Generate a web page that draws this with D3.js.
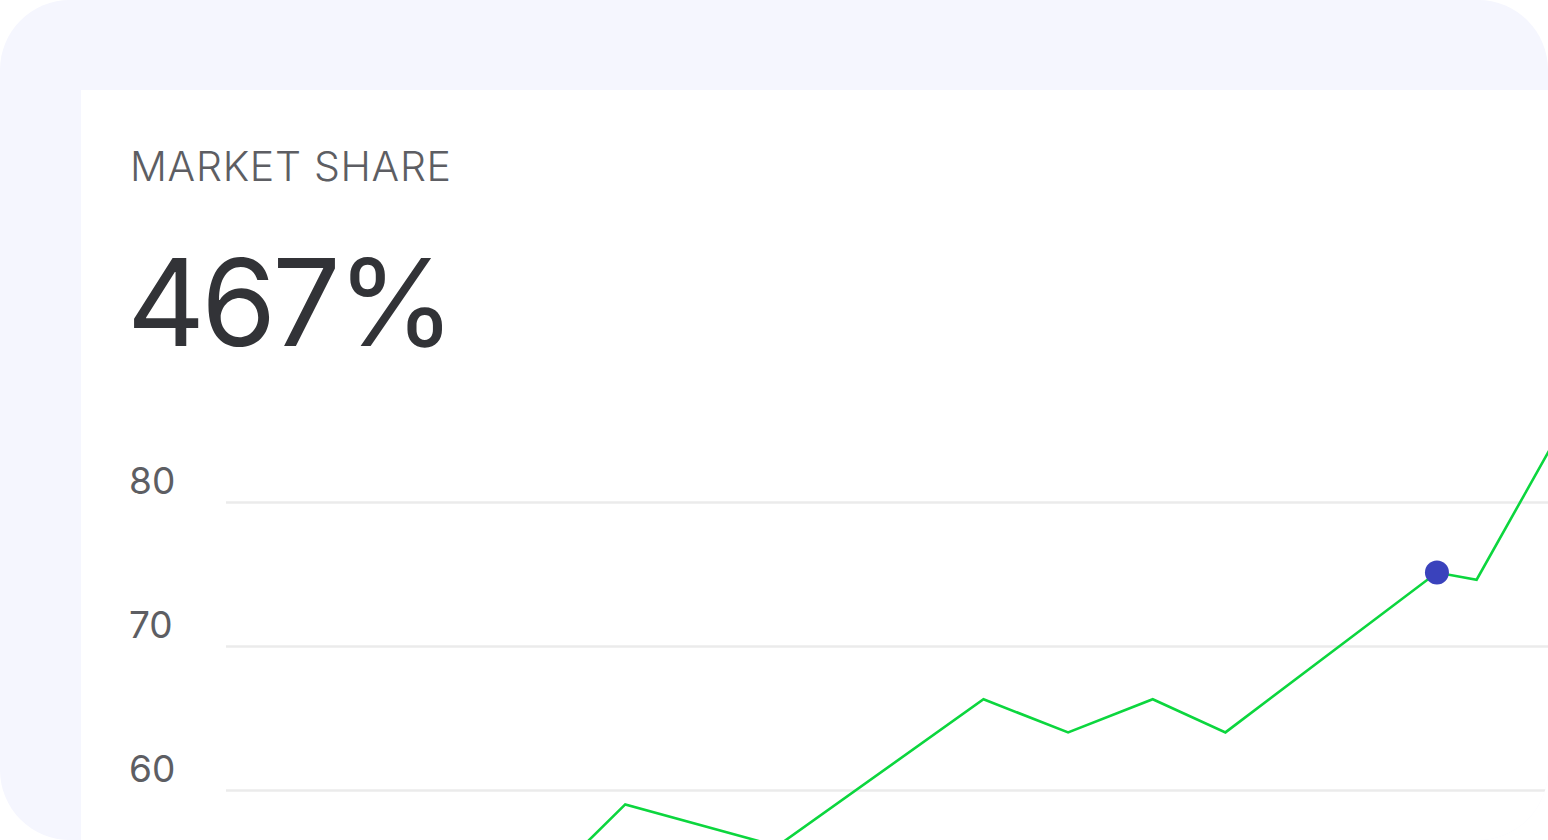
<!DOCTYPE html>
<html>
<head>
<meta charset="utf-8">
<script src="https://cdn.jsdelivr.net/npm/d3@7"></script>
<style>
  html, body { margin: 0; padding: 0; background: #ffffff; }
  svg { display: block; font-family: Inter, "Noto Sans", sans-serif; }
</style>
</head>
<body>
<svg id="chart" width="1548" height="840"></svg>
<script>
// position along the time axis (days) and the share at that point
const days = [22.8, 30.2, 41.7, 57.3, 63.7, 70.1, 75.6, 91.6, 94.6, 100.9];
const share = [52.3, 59.0, 56.1, 66.3, 64.0, 66.3, 64.0, 75.1, 74.6, 84.9];
const highlightIndex = 7;
const yTicks = [60, 70, 80];
const title = 'MARKET SHARE';
const headline = '467%';

const width = 1548;
const height = 840;

const svg = d3.select('#chart');

svg.append('defs')
    .append('clipPath')
    .attr('id', 'frame')
    .append('rect')
    .attr('width', width)
    .attr('height', height)
    .attr('rx', 70)
    .attr('ry', 70);

const root = svg.append('g').attr('clip-path', 'url(#frame)');

root.append('rect')
    .attr('width', width)
    .attr('height', height)
    .attr('fill', '#f5f6fe');

root.append('rect')
    .attr('x', 81)
    .attr('y', 90)
    .attr('width', width - 81)
    .attr('height', height - 90)
    .attr('fill', '#ffffff');

root.append('text')
    .attr('x', 130)
    .attr('y', 181)
    .attr('font-size', 41)
    .attr('font-weight', 300)
    .attr('letter-spacing', 0.7)
    .attr('fill', '#5d5e63')
    .text(title);

root.append('text')
    .attr('x', 127)
    .attr('y', 346)
    .attr('font-size', 121)
    .attr('font-weight', 400)
    .attr('letter-spacing', -4)
    .attr('fill', '#323337')
    .text(headline);

const x = d3.scaleLinear()
    .domain([0, 100])
    .range([226, 1548]);

const y = d3.scaleLinear()
    .domain([60, 80])
    .range([790, 502]);

const axis = root.append('g')
    .attr('transform', 'translate(226,0)')
    .call(d3.axisLeft(y)
        .tickValues(yTicks)
        .tickSize(-(width - 226))
        .tickFormat(d3.format('d')));

axis.select('.domain').remove();
axis.selectAll('.tick line')
    .attr('stroke', '#ebebeb')
    .attr('stroke-width', 2.5);
axis.selectAll('.tick text')
    .attr('x', -97)
    .attr('dy', -9)
    .attr('text-anchor', 'start')
    .attr('font-family', 'Inter, sans-serif')
    .attr('font-size', 37)
    .attr('fill', '#5d5e63');

const line = d3.line()
    .x((d, i) => x(days[i]))
    .y((d) => y(d));

root.append('path')
    .datum(share)
    .attr('d', line)
    .attr('fill', 'none')
    .attr('stroke', '#0cd63e')
    .attr('stroke-width', 2.6)
    .attr('stroke-linejoin', 'miter');

root.append('circle')
    .attr('cx', x(days[highlightIndex]))
    .attr('cy', y(share[highlightIndex]))
    .attr('r', 12)
    .attr('fill', '#3a42bc');
</script>
</body>
</html>
